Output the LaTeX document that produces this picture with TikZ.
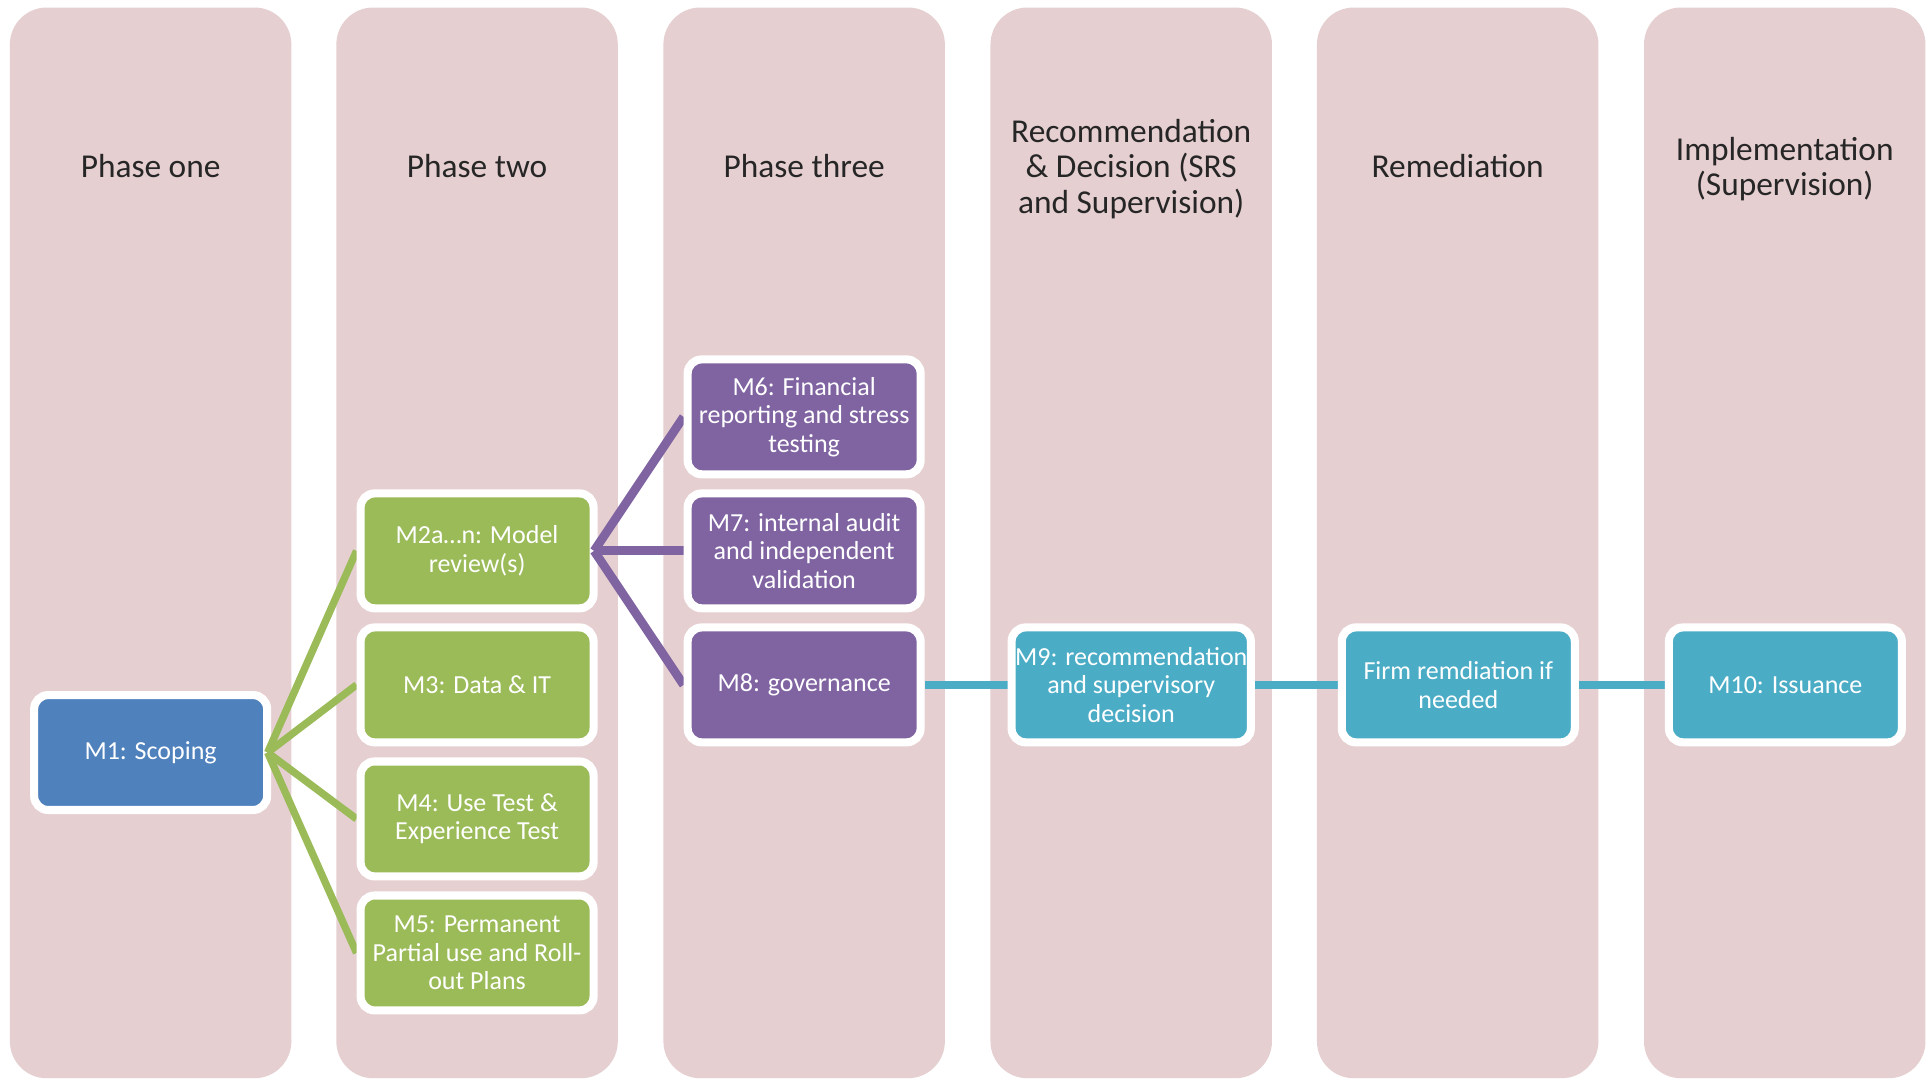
\documentclass[tikz,border=0pt]{standalone}
\usepackage{fontspec}
\setmainfont{Carlito}
\pgfdeclarelayer{cols}
\pgfdeclarelayer{tlinks}
\pgfdeclarelayer{rootbox}
\pgfdeclarelayer{glinks}
\pgfdeclarelayer{greenboxes}
\pgfdeclarelayer{plinks}
\pgfsetlayers{cols,tlinks,rootbox,glinks,greenboxes,plinks,main}
\definecolor{colpink}{HTML}{E6CFD0}
\definecolor{titlegray}{HTML}{262626}
\definecolor{mblue}{HTML}{4F81BD}
\definecolor{mgreen}{HTML}{9BBB59}
\definecolor{mpurple}{HTML}{8064A2}
\definecolor{mteal}{HTML}{4BACC6}
\begin{document}
\begin{tikzpicture}[x=0.012296cm,y=-0.012296cm,
  colbox/.style={fill=colpink, rounded corners=10.5pt, minimum width=80.1pt, minimum height=304.7pt, inner sep=0pt},
  title/.style={text=titlegray, font=\fontsize{9.5}{10.2}\selectfont, align=center},
  box/.style={draw=white, line width=2.3pt, rounded corners=4pt, minimum width=66.3pt, minimum height=32.7pt, inner sep=1pt, text=white, align=center, font=\fontsize{7.4}{8.1}\selectfont},
  bluebox/.style={box, fill=mblue},
  greenbox/.style={box, fill=mgreen},
  purplebox/.style={box, fill=mpurple},
  tealbox/.style={box, fill=mteal},
  glink/.style={draw=mgreen, line width=2.1pt},
  plink/.style={draw=mpurple, line width=2.5pt},
  tlink/.style={draw=mteal, line width=2.5pt}]
\useasboundingbox (0,0) rectangle (1568,878);
\begin{pgfonlayer}{cols}
\fill[white] (0,0) rectangle (1568,878);
\node[colbox] (col1) at (122.5,441.5) {};
\node[colbox] (col2) at (388,441.5) {};
\node[colbox] (col3) at (654,441.5) {};
\node[colbox] (col4) at (920,441.5) {};
\node[colbox] (col5) at (1185.5,441.5) {};
\node[colbox] (col6) at (1451.5,441.5) {};
\end{pgfonlayer}
% titles
\node[title] (t1) at (122.5,135) {Phase one};
\node[title] (t2) at (388,135) {Phase two};
\node[title] (t3) at (654,135) {Phase three};
\node[title] (t4) at (920,137.5) {Recommendation\\\& Decision (SRS\\and Supervision)};
\node[title] (t5) at (1185.5,135) {Remediation};
\node[title] (t6) at (1451.5,137.5) {Implementation\\(Supervision)};
% boxes
\begin{pgfonlayer}{rootbox}
\node[bluebox] (m1) at (122.5,612) {M1: Scoping};
\end{pgfonlayer}
\begin{pgfonlayer}{greenboxes}
\node[greenbox] (m2) at (388,448) {M2a\ldots n: Model\\review(s)};
\node[greenbox] (m3) at (388,557) {M3: Data \& IT};
\node[greenbox] (m4) at (388,666) {M4: Use Test \&\\Experience Test};
\node[greenbox] (m5) at (388,775) {M5: Permanent\\Partial use and Roll-\\out Plans};
\end{pgfonlayer}
\node[purplebox] (m6) at (654,339) {M6: Financial\\reporting and stress\\testing};
\node[purplebox] (m7) at (654,448) {M7: internal audit\\and independent\\validation};
\node[purplebox] (m8) at (654,557) {M8: governance};
\node[tealbox] (m9) at (920,557) {M9: recommendation\\and supervisory\\decision};
\node[tealbox] (rem) at (1186,557) {Firm remdiation if\\needed};
\node[tealbox] (m10) at (1452,557) {M10: Issuance};
% connectors
\begin{pgfonlayer}{glinks}
\draw[glink] ([xshift=-1pt]m1.east) -- (m2.west);
\draw[glink] ([xshift=-1pt]m1.east) -- (m3.west);
\draw[glink] ([xshift=-1pt]m1.east) -- (m4.west);
\draw[glink] ([xshift=-1pt]m1.east) -- (m5.west);
\end{pgfonlayer}
\begin{pgfonlayer}{plinks}
\draw[plink] ([xshift=-1pt]m2.east) -- (m6.west);
\draw[plink] ([xshift=-1pt]m2.east) -- (m7.west);
\draw[plink] ([xshift=-1pt]m2.east) -- (m8.west);
\end{pgfonlayer}
\begin{pgfonlayer}{tlinks}
\draw[tlink] (m8.east) -- (m9.west);
\draw[tlink] (m9.east) -- (rem.west);
\draw[tlink] (rem.east) -- (m10.west);
\end{pgfonlayer}
\end{tikzpicture}
\end{document}
